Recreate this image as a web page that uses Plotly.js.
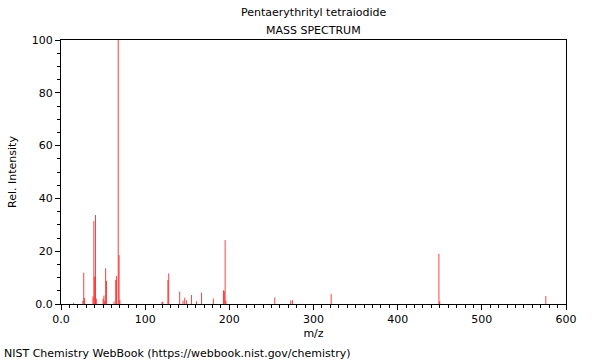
<!DOCTYPE html>
<html>
<head>
<meta charset="utf-8">
<script src="https://cdn.plot.ly/plotly-3.0.1.min.js"></script>
<style>html,body{margin:0;padding:0;background:#fff;}#chart{width:600px;height:360px;}</style>
</head>
<body>
<div id="chart"></div>
<script>
// m/z values and relative intensities
const mz = [15, 26, 27, 28, 38, 39, 40, 41, 42, 50, 51, 52, 53, 54, 63, 65, 66, 68, 69, 70,
            120, 121, 127, 128, 141, 145, 147, 149, 155, 161, 167, 181, 193, 194, 195, 196,
            254, 273, 275, 321, 449, 450, 576];
const intensity = [0.5, 1.2, 11.9, 2.3, 2.8, 31.4, 10.4, 33.7, 2.0, 2.0, 3.2, 1.2, 13.5, 8.8, 1.0, 9.1, 10.6, 100, 18.5, 1.5,
                   0.8, 0.8, 9.1, 11.6, 4.7, 1.3, 2.4, 1.4, 3.4, 1.0, 4.3, 2.1, 5.2, 4.8, 24.2, 1.3,
                   2.5, 1.3, 1.5, 3.8, 19.0, 1.0, 3.0];
const xTickVals = [0, 100, 200, 300, 400, 500, 600];
const xTickText = ['0.0', '100', '200', '300', '400', '500', '600'];
const yTickVals = [0, 20, 40, 60, 80, 100];
const yTickText = ['0.0', '20', '40', '60', '80', '100'];

const xs = [], ys = [];
mz.forEach((m, i) => { xs.push(m, m, null); ys.push(0, intensity[i], null); });

const trace = {
  x: xs, y: ys, type: 'scatter', mode: 'lines',
  line: {color: 'rgba(255,0,0,0.75)', width: 1},
  hoverinfo: 'skip', showlegend: false
};

const axisCommon = {
  showgrid: false, zeroline: false, showline: true, mirror: true,
  linecolor: '#000', linewidth: 1, ticks: 'outside', ticklen: 5, tickcolor: '#000',
  tickfont: {family: 'DejaVu Sans', size: 11, color: '#000'}
};

const layout = {
  width: 600, height: 360,
  margin: {l: 61, r: 34, t: 40, b: 56},
  paper_bgcolor: '#fff', plot_bgcolor: '#fff',
  font: {family: 'DejaVu Sans', size: 11, color: '#000'},
  showlegend: false,
  xaxis: Object.assign({}, axisCommon, {
    range: [0, 600], tickmode: 'array', tickvals: xTickVals, ticktext: xTickText,
    minor: {dtick: 10, ticks: 'outside', ticklen: 3, tickcolor: '#000', showgrid: false},
    title: {text: 'm/z', font: {family: 'DejaVu Sans', size: 11, color: '#000'}, standoff: 4}
  }),
  yaxis: Object.assign({}, axisCommon, {
    range: [0, 100], tickmode: 'array', tickvals: yTickVals, ticktext: yTickText,
    minor: {dtick: 5, ticks: 'outside', ticklen: 3, tickcolor: '#000', showgrid: false},
    title: {text: 'Rel. Intensity', font: {family: 'DejaVu Sans', size: 11, color: '#000'}, standoff: 12}
  }),
  annotations: [
    {text: 'Pentaerythrityl tetraiodide', xref: 'paper', yref: 'paper', x: 0.5, y: (304 - 13) / 264,
     xanchor: 'center', yanchor: 'middle', showarrow: false, font: {family: 'DejaVu Sans', size: 11, color: '#000'}},
    {text: 'MASS SPECTRUM', xref: 'paper', yref: 'paper', x: 0.5, y: (304 - 30) / 264,
     xanchor: 'center', yanchor: 'middle', showarrow: false, font: {family: 'DejaVu Sans', size: 11, color: '#000'}},
    {text: 'NIST Chemistry WebBook (https://webbook.nist.gov/chemistry)', xref: 'paper', yref: 'paper',
     x: (2 - 61) / 505, y: (304 - 353) / 264, xanchor: 'left', yanchor: 'middle', showarrow: false,
     font: {family: 'DejaVu Sans', size: 11, color: '#000'}}
  ]
};

Plotly.newPlot('chart', [trace], layout, {staticPlot: true, displayModeBar: false});
</script>
</body>
</html>
